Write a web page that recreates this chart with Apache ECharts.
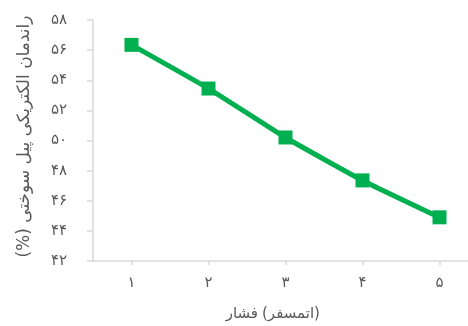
<!DOCTYPE html>
<html>
<head>
<meta charset="utf-8">
<script src="https://cdn.jsdelivr.net/npm/echarts@6/dist/echarts.min.js"></script>
<style>
  html, body { margin: 0; padding: 0; background: #fff; }
  #chart { width: 468px; height: 326px; }
</style>
</head>
<body>
<div id="chart"></div>
<script>
// Pressure (atm) categories and fuel-cell electrical efficiency (%)
const pressureLabels = ['۱', '۲', '۳', '۴', '۵'];
const efficiency = [56.35, 53.45, 50.2, 47.35, 44.9];
const yMin = 42, yMax = 58, yStep = 2;

// Axis titles (x title is drawn as two words placed side by side)
const xTitleWord = 'فشار';
const xTitleUnit = '(اتمسفر)';
const yTitle = '\u202B' + 'راندمان الکتریکی پیل سوختی (%)' + '\u202C';

const faDigits = '۰۱۲۳۴۵۶۷۸۹';
const toPersian = v => String(v).replace(/[0-9]/g, d => faDigits[+d]);

const font = '"DejaVu Sans", "Noto Sans", sans-serif';
const axisGray = '#d9d9d9';
const textGray = '#595959';
const green = '#00b050';

const chart = echarts.init(document.getElementById('chart'));
chart.setOption({
  animation: false,
  grid: { left: 93, top: 20, width: 385, bottom: 65, containLabel: false, outerBoundsMode: 'none' },
  xAxis: {
    type: 'category',
    data: pressureLabels,
    boundaryGap: true,
    axisLine: { lineStyle: { color: axisGray, width: 1.5 } },
    axisTick: { show: true, alignWithLabel: true, length: 4, lineStyle: { color: axisGray, width: 1.5 } },
    axisLabel: { color: textGray, fontSize: 15, fontFamily: font, margin: 15 },
    splitLine: { show: false }
  },
  yAxis: {
    type: 'value',
    min: yMin, max: yMax, interval: yStep,
    name: yTitle,
    nameLocation: 'middle',
    nameRotate: 90,
    nameGap: 60,
    nameTextStyle: { color: textGray, fontSize: 17, fontFamily: font, padding: [0, 0, 0, 8] },
    axisLine: { show: true, lineStyle: { color: axisGray, width: 1.5 } },
    axisTick: { show: true, length: 6, lineStyle: { color: axisGray, width: 1.5 } },
    axisLabel: { color: textGray, fontSize: 15, fontFamily: font, margin: 26, formatter: v => toPersian(v) },
    splitLine: { show: false }
  },
  graphic: [{
    type: 'text',
    x: 258,
    y: 314,
    style: {
      text: xTitleWord,
      fill: textGray,
      font: '15px ' + font,
      align: 'right',
      verticalAlign: 'middle'
    }
  }, {
    type: 'text',
    x: 262,
    y: 314,
    style: {
      text: xTitleUnit,
      fill: textGray,
      font: '15px ' + font,
      align: 'left',
      verticalAlign: 'middle'
    }
  }],
  series: [{
    type: 'line',
    data: efficiency,
    smooth: 0.15,
    symbol: 'rect',
    symbolSize: 14,
    lineStyle: { color: green, width: 5 },
    itemStyle: { color: green },
    clip: false
  }]
});
</script>
</body>
</html>
